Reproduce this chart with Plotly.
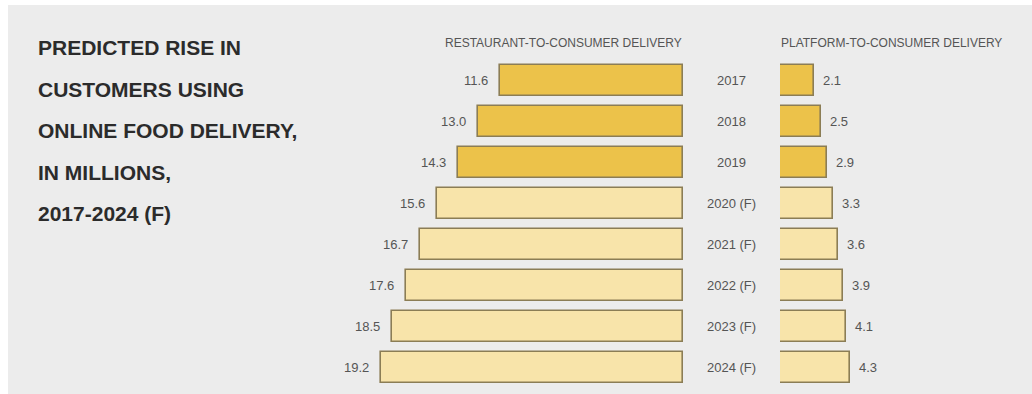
import plotly.graph_objects as go

# --- data -------------------------------------------------------------
years = ["2017", "2018", "2019", "2020 (F)", "2021 (F)", "2022 (F)", "2023 (F)", "2024 (F)"]
restaurant = [11.6, 13.0, 14.3, 15.6, 16.7, 17.6, 18.5, 19.2]
platform = [2.1, 2.5, 2.9, 3.3, 3.6, 3.9, 4.1, 4.3]
forecast = [False, False, False, True, True, True, True, True]
title_lines = ["PREDICTED RISE IN", "CUSTOMERS USING", "ONLINE FOOD DELIVERY,",
               "IN MILLIONS,", "2017-2024 (F)"]
left_header = "RESTAURANT-TO-CONSUMER DELIVERY"
right_header = "PLATFORM-TO-CONSUMER DELIVERY"

# --- styling ----------------------------------------------------------
W, H = 1032, 394
ACTUAL = "#ecc24a"
FORECAST = "#f8e4aa"
EDGE = "#8b7d55"
BG = "#ececec"
FONT = "Liberation Sans, Arial, sans-serif"

colors = [FORECAST if f else ACTUAL for f in forecast]


def px(x):
    return x / W


def py(y):
    return 1 - y / H


fig = go.Figure()

bar_common = dict(
    y=years,
    orientation="h",
    width=0.756,
    marker=dict(color=colors, line=dict(color=EDGE, width=1.6)),
    hoverinfo="skip",
    showlegend=False,
)
fig.add_trace(go.Bar(x=restaurant, xaxis="x", yaxis="y", **bar_common))
fig.add_trace(go.Bar(x=platform, xaxis="x2", yaxis="y", **bar_common))

# axes: left panel grows leftwards from x = 683 px, right panel from x = 780 px
left_lo, left_hi = 330, 683.3
right_lo, right_hi = 780, 1010
fig.update_layout(
    width=W,
    height=H,
    margin=dict(l=0, r=0, t=0, b=0),
    paper_bgcolor="white",
    plot_bgcolor="rgba(0,0,0,0)",
    font=dict(family=FONT, color="#555"),
    xaxis=dict(domain=[px(left_lo), px(left_hi)],
               range=[(left_hi - left_lo) / 15.77, 0],
               visible=False, fixedrange=True),
    xaxis2=dict(domain=[px(right_lo), px(right_hi)],
                range=[0, (right_hi - right_lo) / 16.2],
                visible=False, fixedrange=True),
    yaxis=dict(domain=[0, 1], type="category", categoryarray=years,
               range=[7.654, -1.965], visible=False, fixedrange=True),
    bargap=0,
)

# grey panel behind everything
fig.add_shape(type="rect", xref="paper", yref="paper",
              x0=px(8), x1=1, y0=0, y1=py(5),
              fillcolor=BG, line=dict(width=0), layer="below")

ann = []
# title block
for i, line in enumerate(title_lines):
    ann.append(dict(text=f"<b>{line}</b>", xref="paper", yref="paper",
                    x=px(36), y=py(47.5 + 41.5 * i), xanchor="left", yanchor="middle",
                    showarrow=False, font=dict(size=21, color="#2b2b2b", family=FONT)))

# column headers
ann.append(dict(text=left_header, xref="paper", yref="paper", x=px(684), y=py(43),
                xanchor="right", yanchor="middle", showarrow=False,
                font=dict(size=12, color="#555")))
ann.append(dict(text=right_header, xref="paper", yref="paper", x=px(779), y=py(43),
                xanchor="left", yanchor="middle", showarrow=False,
                font=dict(size=12, color="#555")))

# year labels between the panels (category index used as y position)
for i, yr in enumerate(years):
    ann.append(dict(text=yr, xref="paper", yref="y", x=px(731.5), y=i,
                    xanchor="center", yanchor="middle", showarrow=False,
                    font=dict(size=13, color="#555")))

# value labels
for i, v in enumerate(restaurant):
    ann.append(dict(text=f"{v:.1f}", xref="x", yref="y", x=v, y=i,
                    xanchor="right", yanchor="middle", xshift=-10, showarrow=False,
                    font=dict(size=13, color="#555")))
for i, v in enumerate(platform):
    ann.append(dict(text=f"{v:.1f}", xref="x2", yref="y", x=v, y=i,
                    xanchor="left", yanchor="middle", xshift=7, showarrow=False,
                    font=dict(size=13, color="#555")))

fig.update_layout(annotations=ann)
fig.write_html("out.html")
